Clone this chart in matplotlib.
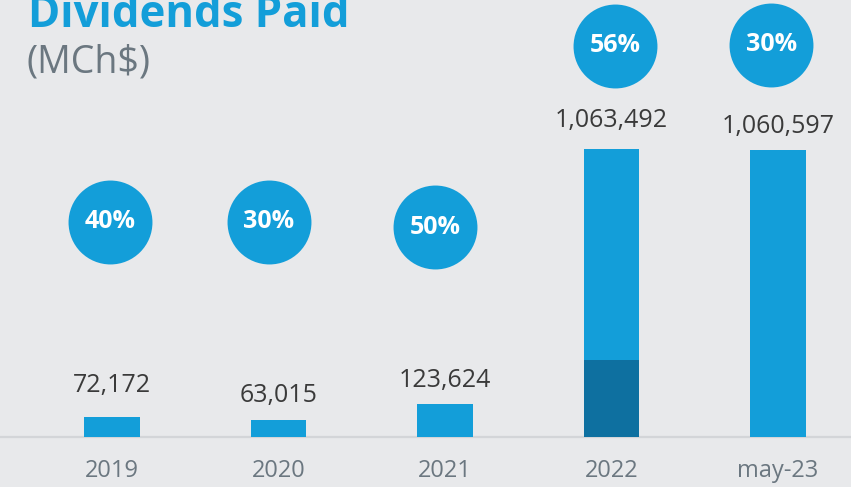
import matplotlib.pyplot as plt

# data
periods = ['2019', '2020', '2021', '2022', 'may-23']
dividends = [72172, 63015, 123624, 1063492, 1060597]
dark_part = [0, 0, 0, 284000, 0]          # darker lower segment of the 2022 bar
payout = ['40%', '30%', '50%', '56%', '30%']
payout_y = [794000, 794000, 775000, 1444000, 1448000]   # height of the payout bubbles
payout_dx = [-0.01, -0.06, -0.06, 0.02, -0.04]

bg = '#e8e9eb'
blue = '#139ed9'
dark = '#0e70a0'
grey_txt = '#6b7780'

plt.rcParams['font.family'] = ['Open Sans', 'DejaVu Sans']

fig = plt.figure(figsize=(8.51, 4.87), dpi=100)
fig.patch.set_facecolor(bg)
ax = fig.add_axes([0, 0, 1, 1])
ax.set_facecolor(bg)
ax.axis('off')

x = list(range(len(periods)))
light_part = [d - k for d, k in zip(dividends, dark_part)]

ax.bar(x, dark_part, width=0.336, color=dark, zorder=2)
ax.bar(x, light_part, bottom=dark_part, width=0.336, color=blue, zorder=2)
ax.axhline(0, color='#d3d5d8', lw=1.6, zorder=1)

# value labels above bars (pixel gaps -> points)
gaps_px = [32, 24, 23, 29, 23]
for xi, v, g in zip(x, dividends, gaps_px):
    ax.annotate(f'{v:,}', (xi, v), xytext=(0, g * 0.72), textcoords='offset points',
                ha='center', va='center', fontsize=18, color='#3a3a3a')

# category labels below baseline
for xi, p in zip(x, periods):
    ax.annotate(p, (xi, 0), xytext=(0, -34 * 0.72), textcoords='offset points',
                ha='center', va='center', fontsize=17, color=grey_txt)

# payout bubbles
bx = [xi + d for xi, d in zip(x, payout_dx)]
ax.scatter(bx, payout_y, s=3650, color=blue, zorder=3, linewidths=0)
for xx, yy, t in zip(bx, payout_y, payout):
    ax.text(xx, yy, t, ha='center', va='center', fontsize=18, fontweight='bold',
            color='white', zorder=4)

ax.set_xlim(-112 / 166.5, (851 - 112) / 166.5)
ax.set_ylim(-50 * 3693, 437 * 3693)

fig.text(28 / 851, 1 - 27 / 487, 'Dividends Paid', fontsize=31.5, fontweight='bold',
         color=blue, ha='left', va='baseline')
fig.text(27 / 851, 1 - 73 / 487, '(MCh$)', fontsize=27, color=grey_txt,
         ha='left', va='baseline')

fig.savefig('out.png', dpi=100, facecolor=bg)
